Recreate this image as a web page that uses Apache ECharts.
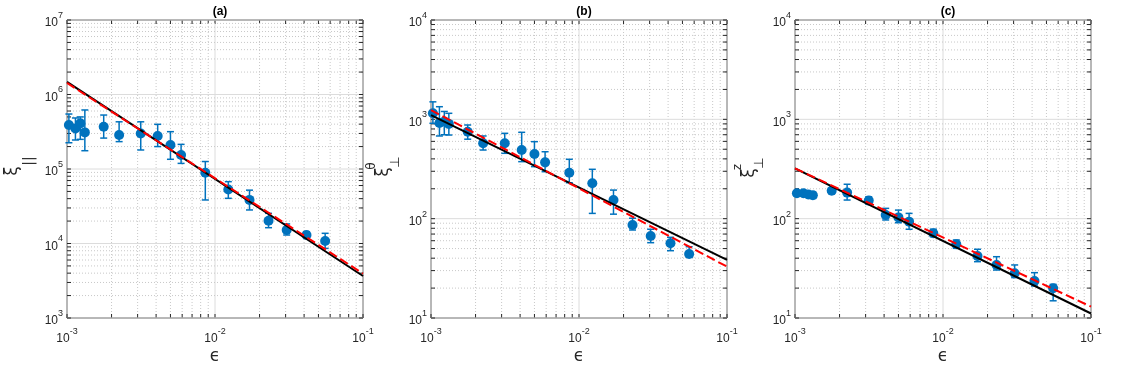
<!DOCTYPE html>
<html>
<head>
<meta charset="utf-8">
<script src="https://cdn.jsdelivr.net/npm/echarts@6/dist/echarts.min.js"></script>
<style>
  html, body { margin: 0; padding: 0; background: #fff; }
  #chart { width: 1136px; height: 384px; }
</style>
</head>
<body>
<div id="chart"></div>
<script>
// epsilon values (shared by the three panels)
const eps = [1.03e-3, 1.14e-3, 1.23e-3, 1.32e-3, 1.77e-3, 2.25e-3, 3.15e-3, 4.1e-3, 5.0e-3, 5.9e-3,
  8.6e-3, 1.23e-2, 1.71e-2, 2.3e-2, 3.05e-2, 4.15e-2, 5.55e-2];

// (a) xi_parallel
const xiPar = [3.9e5, 3.5e5, 4.1e5, 3.1e5, 3.7e5, 2.86e5, 3.0e5, 2.77e5, 2.1e5, 1.54e5, 8.9e4, 5.3e4, 3.85e4, 2.02e4, 1.52e4, 1.3e4, 1.08e4];
const xiParLo = [2.25e5, 2.45e5, 2.5e5, 1.76e5, 2.6e5, 2.33e5, 1.8e5, 2.0e5, 1.35e5, 1.19e5, 3.84e4, 4.04e4, 2.82e4, 1.63e4, 1.3e4, 1.17e4, 8.6e3];
const xiParHi = [5.47e5, 4.84e5, 5.0e5, 6.2e5, 5.3e5, 4.3e5, 4.3e5, 3.98e5, 3.17e5, 2.14e5, 1.26e5, 6.76e4, 5.2e4, 2.54e4, 1.83e4, 1.44e4, 1.37e4];

// (b) xi_perp theta
const xiTh = [1150, 920, 950, 900, 751, 574, 574, 491, 448, 369, 290, 227, 154, 86.3, 66.9, 56.5, 44.1];
const xiThLo = [912, 680, 700, 695, 631, 491, 455, 375, 334, 297, 230, 113, 111, 76.9, 57.3, 47.6, 40.8];
const xiThHi = [1500, 1340, 1200, 1150, 877, 680, 723, 740, 596, 472, 396, 314, 194, 101, 78.2, 64.9, 52.2];

// (c) xi_perp z
const xiZ = [180, 180, 175, 172, 191, 183, 152, 109, 103, 93.3, 71.3, 55.2, 42.1, 34.2, 28.2, 23.6, 19.9];
const xiZLo = [170, 170, 165, 160, 180, 154, 141, 97, 91, 78.2, 65.8, 50.3, 36.9, 30.4, 25.5, 21, 14.9];
const xiZHi = [190, 190, 185, 185, 202, 222, 166, 127, 122, 113, 78.2, 61, 49.2, 41.4, 34.2, 28.6, 21.8];

// power-law fits, values at eps = 1e-3 and 1e-1
const fitX = [1e-3, 1e-1];
const fitParBlack = [1.48e6, 3.66e3];
const fitParRed = [1.43e6, 3.95e3];
const fitThBlack = [1100, 38.4];
const fitThRed = [1240, 32.9];
const fitZBlack = [321, 11.1];
const fitZRed = [321, 13.0];

const panelTitles = ['(a)', '(b)', '(c)'];
const yRanges = [[1e3, 1e7], [10, 1e4], [10, 1e4]];
const xRange = [1e-3, 1e-1];

const TXT = '#262626';
const BLUE = '#0072BD';
const lefts = [67, 431, 795];

let chart = echarts.init(document.getElementById('chart'));

function powTicks(lo, hi) {
  let out = [];
  let e0 = Math.round(Math.log10(lo)), e1 = Math.round(Math.log10(hi));
  for (let e = e0; e <= e1; e++) {
    for (let m = 1; m <= 9; m++) {
      if (e === e1 && m > 1) break;
      out.push([m * Math.pow(10, e), m === 1 ? 1 : 0]);
    }
  }
  return out;
}

function supLabel(v) {
  let e = Math.round(Math.log10(v));
  return '{b|10}{s|' + e + '}';
}
const supRich = {
  b: { fontSize: 12, color: TXT, fontFamily: 'Liberation Sans', lineHeight: 18, verticalAlign: 'bottom' },
  s: { fontSize: 9, color: TXT, fontFamily: 'Liberation Sans', lineHeight: 18, verticalAlign: 'top' }
};

let grids = [], xAxes = [], yAxes = [], series = [], titles = [];

function addPanel(i, yVals, yLo, yHi, black, red) {
  let yr = yRanges[i];
  grids.push({ left: lefts[i], top: 20, width: 296, height: 298, show: true, borderColor: TXT, borderWidth: 1, backgroundColor: 'transparent' });
  xAxes.push({
    type: 'log', gridIndex: i, min: xRange[0], max: xRange[1], logBase: 10,
    axisLine: { show: false }, axisTick: { show: false }, splitLine: { show: false },
    axisLabel: { formatter: supLabel, rich: supRich, margin: 9 }
  });
  yAxes.push({
    type: 'log', gridIndex: i, min: yr[0], max: yr[1], logBase: 10,
    axisLine: { show: false }, axisTick: { show: false }, splitLine: { show: false },
    axisLabel: { formatter: supLabel, rich: supRich, margin: 4 }
  });
  titles.push({
    text: panelTitles[i], left: lefts[i] + 148, top: 1, textAlign: 'center',
    textStyle: { fontSize: 12, fontWeight: 'bold', color: '#000', fontFamily: 'Liberation Sans' }
  });

  // grid lines and inside ticks (MATLAB style)
  let gl = [];
  powTicks(xRange[0], xRange[1]).forEach(t => gl.push([t[0], yr[0], 0, t[1]]));
  powTicks(yr[0], yr[1]).forEach(t => gl.push([xRange[0], t[0], 1, t[1]]));
  series.push({
    type: 'custom', xAxisIndex: i, yAxisIndex: i, silent: true, z: 1,
    encode: { x: 0, y: 1 },
    data: gl,
    renderItem: function (params, api) {
      let v = api.value(api.value(2) === 0 ? 0 : 1);
      let major = api.value(3) === 1;
      let vert = api.value(2) === 0;
      let p0 = vert ? api.coord([v, yr[0]]) : api.coord([xRange[0], v]);
      let p1 = vert ? api.coord([v, yr[1]]) : api.coord([xRange[1], v]);
      let tl = 4;
      let kids = [];
      kids.push({
        type: 'line', shape: { x1: p0[0], y1: p0[1], x2: p1[0], y2: p1[1] },
        style: major ? { stroke: '#dcdcdc', lineWidth: 1 } : { stroke: '#c8c8c8', lineWidth: 1, lineDash: [1, 2] }
      });
      if (vert) {
        kids.push({ type: 'line', shape: { x1: p0[0], y1: p0[1], x2: p0[0], y2: p0[1] - tl }, style: { stroke: TXT, lineWidth: 1 } });
        kids.push({ type: 'line', shape: { x1: p1[0], y1: p1[1], x2: p1[0], y2: p1[1] + tl }, style: { stroke: TXT, lineWidth: 1 } });
      } else {
        kids.push({ type: 'line', shape: { x1: p0[0], y1: p0[1], x2: p0[0] + tl, y2: p0[1] }, style: { stroke: TXT, lineWidth: 1 } });
        kids.push({ type: 'line', shape: { x1: p1[0], y1: p1[1], x2: p1[0] - tl, y2: p1[1] }, style: { stroke: TXT, lineWidth: 1 } });
      }
      return { type: 'group', children: kids };
    }
  });

  // error bars
  series.push({
    type: 'custom', xAxisIndex: i, yAxisIndex: i, silent: true, z: 3,
    encode: { x: 0, y: 1 },
    data: eps.map((x, k) => [x, yVals[k], yLo[k], yHi[k]]),
    renderItem: function (params, api) {
      let lo = api.coord([api.value(0), api.value(2)]);
      let hi = api.coord([api.value(0), api.value(3)]);
      let c = 3.5;
      let st = { stroke: BLUE, lineWidth: 1.5 };
      return {
        type: 'group', children: [
          { type: 'line', shape: { x1: lo[0], y1: lo[1], x2: hi[0], y2: hi[1] }, style: st },
          { type: 'line', shape: { x1: lo[0] - c, y1: lo[1], x2: lo[0] + c, y2: lo[1] }, style: st },
          { type: 'line', shape: { x1: hi[0] - c, y1: hi[1], x2: hi[0] + c, y2: hi[1] }, style: st }
        ]
      };
    }
  });

  series.push({
    type: 'scatter', xAxisIndex: i, yAxisIndex: i, z: 4, silent: true,
    symbol: 'circle', symbolSize: 10,
    itemStyle: { color: BLUE, opacity: 1 },
    data: eps.map((x, k) => [x, yVals[k]])
  });

  series.push({
    type: 'line', xAxisIndex: i, yAxisIndex: i, z: 5, silent: true, showSymbol: false,
    lineStyle: { color: '#000', width: 2 },
    data: fitX.map((x, k) => [x, black[k]])
  });
  series.push({
    type: 'line', xAxisIndex: i, yAxisIndex: i, z: 6, silent: true, showSymbol: false,
    lineStyle: { color: '#ff0000', width: 2, type: [9, 4] },
    data: fitX.map((x, k) => [x, red[k]])
  });
}

addPanel(0, xiPar, xiParLo, xiParHi, fitParBlack, fitParRed);
addPanel(1, xiTh, xiThLo, xiThHi, fitThBlack, fitThRed);
addPanel(2, xiZ, xiZLo, xiZHi, fitZBlack, fitZRed);

// axis names
const FS = 'DejaVu Sans';
function rotText(x, y, txt, size) {
  return { type: 'text', x: x, y: y, rotation: Math.PI / 2,
    style: { text: txt, fontSize: size, fill: TXT, fontFamily: FS, align: 'center', verticalAlign: 'middle' } };
}
let graphics = [];
lefts.forEach(l => graphics.push({ type: 'text', x: l + 148, y: 357,
  style: { text: 'ϵ', fontSize: 17, fill: TXT, fontFamily: FS, align: 'center', verticalAlign: 'middle' } }));
graphics.push(rotText(13, 171, 'ξ', 17));
graphics.push(rotText(29, 161, '||', 14));
graphics.push(rotText(372, 166, 'θ', 12));
graphics.push(rotText(384, 172, 'ξ', 17));
graphics.push(rotText(396, 162, '⊥', 13));
graphics.push(rotText(738, 167, 'z', 12));
graphics.push(rotText(750, 173, 'ξ', 17));
graphics.push(rotText(760, 163, '⊥', 13));

let option = {
  backgroundColor: '#fff',
  animation: false,
  title: titles,
  grid: grids,
  xAxis: xAxes,
  yAxis: yAxes,
  series: series,
  graphic: graphics
};
chart.setOption(option);
</script>
</body>
</html>
